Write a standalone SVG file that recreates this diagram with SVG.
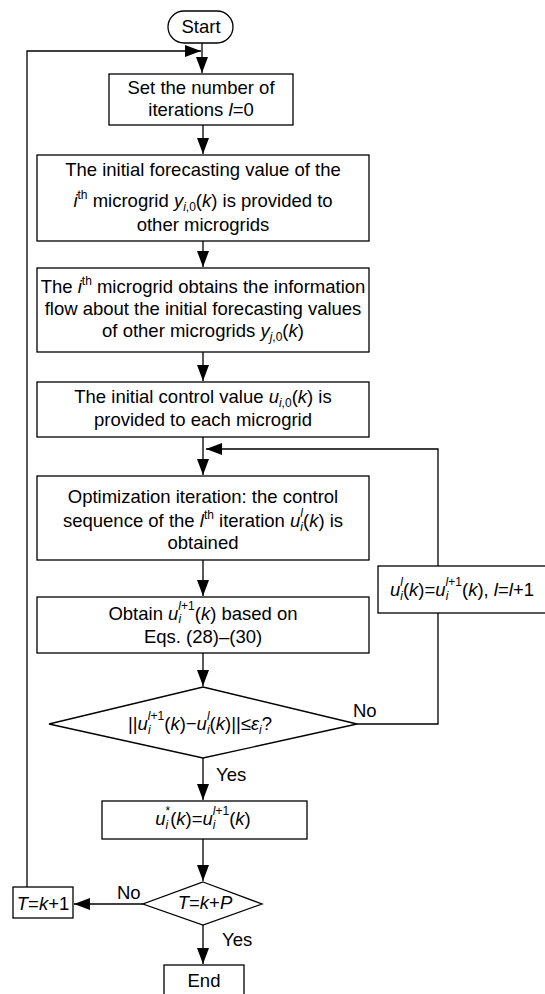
<svg xmlns="http://www.w3.org/2000/svg" width="545" height="994" viewBox="0 0 545 994">
<style>
.b{fill:#fff;stroke:#000;stroke-width:1.3}
.c{fill:none;stroke:#000;stroke-width:1.3}
text{font-family:"Liberation Sans",Arial,sans-serif;font-size:18.5px;fill:#000}
.m{text-anchor:middle}
.i{font-style:italic}
.s{font-size:12px}
</style>
<defs>
<marker id="ah" markerUnits="userSpaceOnUse" markerWidth="17" markerHeight="12" refX="16" refY="6" orient="auto">
<path d="M0,0 L16,6 L0,12 z" fill="#000"/>
</marker>
</defs>
<g id="connectors">
<path class="c" d="M202,43 V73" marker-end="url(#ah)"/>
<path class="c" d="M203,125 V154" marker-end="url(#ah)"/>
<path class="c" d="M203,241 V267" marker-end="url(#ah)"/>
<path class="c" d="M203,352 V381" marker-end="url(#ah)"/>
<path class="c" d="M203,437 V475" marker-end="url(#ah)"/>
<path class="c" d="M203,560 V596" marker-end="url(#ah)"/>
<path class="c" d="M203,653 V686" marker-end="url(#ah)"/>
<path class="c" d="M203,758 V800" marker-end="url(#ah)"/>
<path class="c" d="M203,839 V881" marker-end="url(#ah)"/>
<path class="c" d="M203,925 V964" marker-end="url(#ah)"/>
<path class="c" d="M143,904 H74" marker-end="url(#ah)"/>
<path class="c" d="M27,887 V51 H201" marker-end="url(#ah)"/>
<path class="c" d="M357,724 H438 V613"/>
<path class="c" d="M438,566 V449 H206" marker-end="url(#ah)"/>
<text x="353" y="717">No</text>
<text x="216" y="781">Yes</text>
<text x="117" y="899">No</text>
<text x="222" y="946">Yes</text>
</g>
<g id="start">
<rect class="b" x="168" y="11" width="65" height="32" rx="16"/>
<text class="m" x="201" y="33">Start</text>
</g>
<g id="box1">
<rect class="b" x="109" y="74" width="184" height="51"/>
<text class="m" x="201" y="94">Set the number of</text>
<text class="m" x="201" y="116">iterations <tspan class="i">l</tspan>=0</text>
</g>
<g id="box2">
<rect class="b" x="37" y="155" width="332" height="86"/>
<text class="m" x="203" y="176">The initial forecasting value of the</text>
<text class="m" x="203" y="207"><tspan class="i">i</tspan><tspan class="s" dy="-8">th</tspan><tspan dy="8"> microgrid </tspan><tspan class="i">y</tspan><tspan class="s i" dy="4">i</tspan><tspan class="s">,0</tspan><tspan dy="-4">(</tspan><tspan class="i">k</tspan>) is provided to</text>
<text class="m" x="203" y="231">other microgrids</text>
</g>
<g id="box3">
<rect class="b" x="37" y="268" width="332" height="84"/>
<text class="m" x="203" y="293">The <tspan class="i">i</tspan><tspan class="s" dy="-8">th</tspan><tspan dy="8"> microgrid obtains the information</tspan></text>
<text class="m" x="203" y="315">flow about the initial forecasting values</text>
<text class="m" x="203" y="337">of other microgrids <tspan class="i">y</tspan><tspan class="s i" dy="4">j</tspan><tspan class="s">,0</tspan><tspan dy="-4">(</tspan><tspan class="i">k</tspan>)</text>
</g>
<g id="box4">
<rect class="b" x="37" y="382" width="332" height="55"/>
<text class="m" x="203" y="403">The initial control value <tspan class="i">u</tspan><tspan class="s i" dy="4">i</tspan><tspan class="s">,0</tspan><tspan dy="-4">(</tspan><tspan class="i">k</tspan>) is</text>
<text class="m" x="203" y="426">provided to each microgrid</text>
</g>
<g id="box5">
<rect class="b" x="37" y="476" width="332" height="84"/>
<text class="m" x="203" y="503">Optimization iteration: the control</text>
<text class="m" x="203" y="527">sequence of the <tspan class="i">l</tspan><tspan class="s" dy="-8">th</tspan><tspan dy="8"> iteration </tspan><tspan class="i">u</tspan><tspan class="s i" dy="4">i</tspan><tspan class="s i" dx="-2.7" dy="-14">l</tspan><tspan dy="10">(</tspan><tspan class="i">k</tspan>) is</text>
<text class="m" x="203" y="549">obtained</text>
</g>
<g id="box6">
<rect class="b" x="37" y="597" width="332" height="56"/>
<text class="m" x="203" y="620">Obtain <tspan class="i">u</tspan><tspan class="s i" dy="3">i</tspan><tspan class="s" dx="-2.7" dy="-13"><tspan class="i">l</tspan>+1</tspan><tspan dy="10">(</tspan><tspan class="i">k</tspan>) based on</text>
<text class="m" x="203" y="643">Eqs. (28)–(30)</text>
</g>
<g id="update">
<rect class="b" x="378" y="566" width="170" height="47"/>
<text class="m" x="462" y="596"><tspan class="i">u</tspan><tspan class="s i" dy="4">i</tspan><tspan class="s i" dx="-2.7" dy="-14">l</tspan><tspan dy="10">(</tspan><tspan class="i">k</tspan>)=<tspan class="i">u</tspan><tspan class="s i" dy="4">i</tspan><tspan class="s" dx="-2.7" dy="-14"><tspan class="i">l</tspan>+1</tspan><tspan dy="10">(</tspan><tspan class="i">k</tspan>), <tspan class="i">l</tspan>=<tspan class="i">l</tspan>+1</text>
</g>
<g id="decision1">
<polygon class="b" points="203,687 357,724 203,758 49,724"/>
<text class="m" x="200" y="730">||<tspan class="i">u</tspan><tspan class="s i" dy="4">i</tspan><tspan class="s" dx="-2.7" dy="-14"><tspan class="i">l</tspan>+1</tspan><tspan dy="10">(</tspan><tspan class="i">k</tspan>)−<tspan class="i">u</tspan><tspan class="s i" dy="4">i</tspan><tspan class="s i" dx="-2.7" dy="-14">l</tspan><tspan dy="10">(</tspan><tspan class="i">k</tspan>)||≤<tspan class="i">ε</tspan><tspan class="s i" dy="4">i</tspan><tspan dy="-4">?</tspan></text>
</g>
<g id="box7">
<rect class="b" x="102" y="801" width="205" height="38"/>
<text class="m" x="203" y="825"><tspan class="i">u</tspan><tspan class="s i" dy="4">i</tspan><tspan class="s" dx="-2.7" dy="-14">*</tspan><tspan dy="10">(</tspan><tspan class="i">k</tspan>)=<tspan class="i">u</tspan><tspan class="s i" dy="4">i</tspan><tspan class="s" dx="-2.7" dy="-14"><tspan class="i">l</tspan>+1</tspan><tspan dy="10">(</tspan><tspan class="i">k</tspan>)</text>
</g>
<g id="decision2">
<polygon class="b" points="203,882 262,904 203,925 143,904"/>
<text class="m" x="205" y="909"><tspan class="i">T</tspan>=<tspan class="i">k</tspan>+<tspan class="i">P</tspan></text>
</g>
<g id="increment">
<rect class="b" x="13" y="887" width="60" height="31"/>
<text class="m" x="43" y="910"><tspan class="i">T</tspan>=<tspan class="i">k</tspan>+1</text>
</g>
<g id="end">
<rect class="b" x="164" y="965" width="80" height="40"/>
<text class="m" x="204" y="987">End</text>
</g>
</svg>
